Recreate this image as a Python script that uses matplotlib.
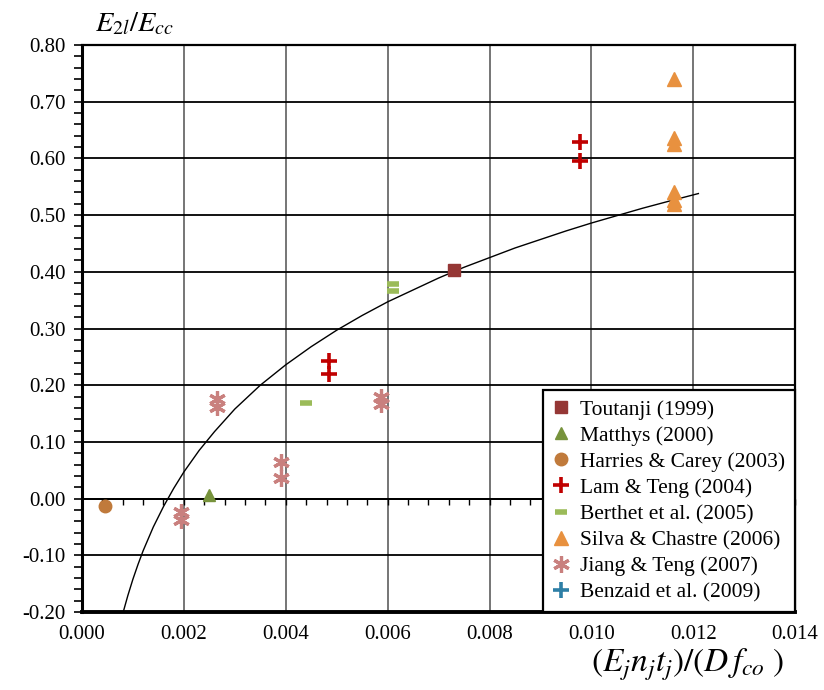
import numpy as np
import matplotlib.pyplot as plt
from matplotlib.ticker import MultipleLocator, FormatStrFormatter

plt.rcParams['font.family'] = ['Liberation Serif', 'DejaVu Serif']
plt.rcParams['mathtext.fontset'] = 'stix'

# data
toutanji_x = [0.0073]
toutanji_y = [0.403]
matthys_x = [0.0025]
matthys_y = [0.006]
harries_x = [0.00045]
harries_y = [-0.013]
lam_x = [0.00485, 0.00485, 0.00978, 0.00978]
lam_y = [0.242, 0.219, 0.629, 0.595]
berthet_x = [0.0061, 0.0061, 0.0044]
berthet_y = [0.378, 0.367, 0.168]
silva_x = [0.01162, 0.01162, 0.01162, 0.01162, 0.01162, 0.01162]
silva_y = [0.740, 0.636, 0.625, 0.541, 0.526, 0.520]
jiang_x = [0.00195, 0.00195, 0.00266, 0.00266, 0.0039, 0.0039, 0.00586, 0.00586]
jiang_y = [-0.023, -0.037, 0.175, 0.161, 0.065, 0.037, 0.180, 0.166]
benzaid_x = []
benzaid_y = []

# trend curve
curve_x = [0.0008, 0.0009, 0.001, 0.0011, 0.0012, 0.0014, 0.0016, 0.0018, 0.002, 0.0023,
           0.0026, 0.003, 0.0035, 0.004, 0.0045, 0.005, 0.0055, 0.006, 0.0065, 0.007,
           0.0075, 0.008, 0.0085, 0.009, 0.0095, 0.010, 0.0105, 0.011, 0.0115, 0.0121]
curve_y = [-0.203, -0.171, -0.142, -0.116, -0.092, -0.050, -0.014, 0.018, 0.047, 0.085,
           0.118, 0.158, 0.200, 0.236, 0.268, 0.297, 0.323, 0.347, 0.368, 0.389,
           0.408, 0.425, 0.442, 0.457, 0.472, 0.486, 0.499, 0.512, 0.524, 0.538]

fig = plt.figure(figsize=(8.24, 6.90), dpi=100)
ax = fig.add_axes([0.0995, 0.113, 0.8655, 0.8218])

ax.set_xlim(0, 0.014)
ax.set_ylim(-0.2, 0.8)
ax.xaxis.set_major_locator(MultipleLocator(0.002))
ax.yaxis.set_major_locator(MultipleLocator(0.1))
ax.yaxis.set_minor_locator(MultipleLocator(0.02))
ax.xaxis.set_major_formatter(FormatStrFormatter('%.3f'))
ax.yaxis.set_major_formatter(FormatStrFormatter('%.2f'))

ax.grid(True, axis='y', color='black', lw=1.3, zorder=0)
ax.grid(True, axis='x', color='#6a6a6a', lw=1.3, zorder=0)
ax.set_axisbelow(True)

for s in ['top', 'right']:
    ax.spines[s].set_linewidth(1.6)
ax.spines['left'].set_linewidth(2.2)
ax.spines['bottom'].set_linewidth(2.8)

ax.tick_params(axis='x', which='both', length=0, labelsize=15, pad=9)
ax.tick_params(axis='y', which='both', direction='out', length=6, width=1.2, labelsize=15, pad=6)

# zero axis with small ticks
sec = ax.secondary_xaxis(0.2)
sec.set_zorder(2)
sec.xaxis.set_major_locator(MultipleLocator(0.0004))
sec.tick_params(axis='x', which='both', direction='out', length=4, width=1.0, labelbottom=False)
sec.spines['bottom'].set_linewidth(1.4)

ax.plot(curve_x, curve_y, color='black', lw=1.0, zorder=3)

ax.plot(toutanji_x, toutanji_y, ls='none', marker='s', ms=9, color='#953735', label='Toutanji (1999)', zorder=4)
ax.plot(matthys_x, matthys_y, ls='none', marker='^', ms=9, color='#77933C', label='Matthys (2000)', zorder=4)
ax.plot(harries_x, harries_y, ls='none', marker='o', ms=9, color='#C07A3B', label='Harries & Carey (2003)', zorder=4)
ax.plot(lam_x, lam_y, ls='none', marker='+', ms=12, mew=2.6, color='#C00000', label='Lam & Teng (2004)', zorder=4)
ax.plot(berthet_x, berthet_y, ls='none', marker='_', ms=9, mew=4, color='#9BBB59', label='Berthet et al. (2005)', zorder=4)
ax.plot(silva_x, silva_y, ls='none', marker='^', ms=10, color='#E8913F', label='Silva & Chastre (2006)', zorder=4)
ax.plot(jiang_x, jiang_y, ls='none', marker=(6, 2, 0), ms=12, mew=2.3, color='#C9807E', label='Jiang & Teng (2007)', zorder=4)
ax.plot(benzaid_x, benzaid_y, ls='none', marker='+', ms=12, mew=2.6, color='#2E7FA6', label='Benzaid et al. (2009)', zorder=4)

leg = ax.legend(loc='lower right', bbox_to_anchor=(1.0, 0.0), borderaxespad=0, fontsize=15.5,
                frameon=True, fancybox=False, framealpha=1, edgecolor='black',
                handlelength=0.8, handletextpad=0.5, labelspacing=0.28, borderpad=0.45)
leg.get_frame().set_linewidth(1.6)
leg.set_zorder(10)

fig.text(0.115, 0.965, r'$E_{2l}/E_{cc}$', fontsize=20.5, ha='left', va='center')
fig.text(0.835, 0.037, r'$\left(E_j n_j t_j\right)/\left(D\,f_{co}\ \right)$', fontsize=24, ha='center', va='center')

fig.savefig('out.png', dpi=100)
